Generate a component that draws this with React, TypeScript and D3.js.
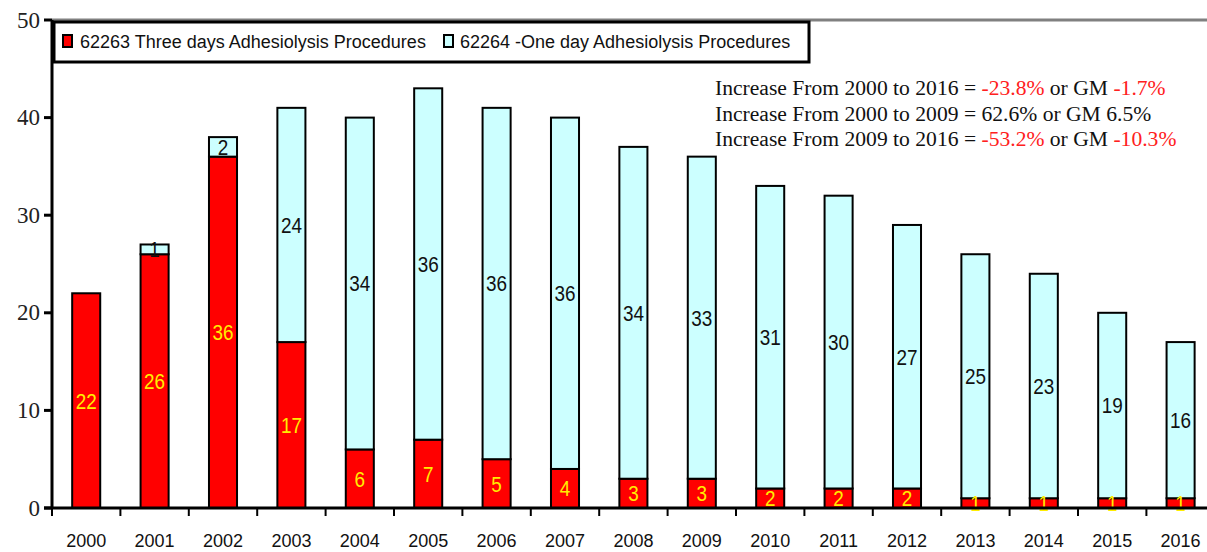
import React from "react";
import * as d3 from "d3";

// Annual procedure counts, by code
const years = ["2000","2001","2002","2003","2004","2005","2006","2007","2008","2009","2010","2011","2012","2013","2014","2015","2016"];
const threeDay = [22, 26, 36, 17, 6, 7, 5, 4, 3, 3, 2, 2, 2, 1, 1, 1, 1];
const oneDay = [0, 1, 2, 24, 34, 36, 36, 36, 34, 33, 31, 30, 27, 25, 23, 19, 16];
const yTicks = [0, 10, 20, 30, 40, 50];
const seriesNames = ["62263 Three days Adhesiolysis Procedures", "62264 -One day Adhesiolysis Procedures"];

// Summary lines: [plain, coloured] fragments
const notes: { text: string; red: boolean }[][] = [
  [
    { text: "Increase From 2000 to 2016 = ", red: false },
    { text: "-23.8%", red: true },
    { text: " or GM ", red: false },
    { text: "-1.7%", red: true },
  ],
  [
    { text: "Increase From 2000 to 2009 = 62.6% or GM 6.5%", red: false },
  ],
  [
    { text: "Increase From 2009 to 2016 = ", red: false },
    { text: "-53.2%", red: true },
    { text: " or GM ", red: false },
    { text: "-10.3%", red: true },
  ],
];

const W = 1207;
const H = 552;
const left = 52;
const top = 20;
const bottom = 508;
const step = 68.4;

const RED = "#ff0000";
const CYAN = "#ccffff";
const SANS = "'Liberation Sans', Arial, sans-serif";
const SERIF = "'Liberation Serif', 'Times New Roman', serif";

export default function App() {
  const x = d3
    .scaleBand<string>()
    .domain(years)
    .range([left, left + step * years.length])
    .paddingInner(0.59)
    .paddingOuter(0.295);
  const y = d3.scaleLinear().domain([0, 50]).range([bottom, top]);

  const rows = years.map((yr, i) => ({ year: yr, a: threeDay[i], b: oneDay[i] }));
  const stacked = d3.stack<any>().keys(["a", "b"])(rows as any);
  const fills = [RED, CYAN];
  const labelColors = ["#ffee00", "#111111"];

  const boundaries = d3.range(years.length + 1).map((i) => left + i * step);

  return (
    <svg
      width={W}
      height={H}
      style={{ position: "absolute", left: 0, top: 0, background: "#fff" }}
    >
      {/* plot frame top */}
      <line x1={left} x2={W} y1={top} y2={top} stroke="#808080" strokeWidth={3} />

      {/* bars */}
      {stacked.map((layer, li) => (
        <g key={li}>
          {layer.map((d: any, i: number) => {
            const v = d[1] - d[0];
            if (v <= 0) return null;
            return (
              <rect
                key={i}
                x={x(years[i])!}
                y={y(d[1])}
                width={x.bandwidth()}
                height={y(d[0]) - y(d[1])}
                fill={fills[li]}
                stroke="#000"
                strokeWidth={2}
              />
            );
          })}
        </g>
      ))}

      {/* segment labels, slightly condensed */}
      {stacked.map((layer, li) => (
        <g key={"l" + li}>
          {layer.map((d: any, i: number) => {
            const v = d[1] - d[0];
            if (v <= 0) return null;
            const cx = x(years[i])! + x.bandwidth() / 2;
            const cy = y((d[0] + d[1]) / 2);
            return (
              <text
                key={i}
                transform={`translate(${cx},${cy}) scale(0.86,1)`}
                dy="0.36em"
                textAnchor="middle"
                fontFamily={SANS}
                fontSize={22}
                fill={labelColors[li]}
              >
                {v}
              </text>
            );
          })}
        </g>
      ))}

      {/* y axis */}
      <line x1={left} x2={left} y1={top} y2={bottom} stroke="#000" strokeWidth={3} />
      {yTicks.map((t) => (
        <g key={t}>
          <line x1={left - 8} x2={left} y1={y(t)} y2={y(t)} stroke="#000" strokeWidth={3} />
          <text
            x={40}
            y={y(t)}
            dy="0.33em"
            textAnchor="end"
            fontFamily={SERIF}
            fontSize={23}
            fill="#222"
          >
            {t}
          </text>
        </g>
      ))}

      {/* x axis */}
      <line x1={left - 8} x2={W} y1={bottom} y2={bottom} stroke="#000" strokeWidth={3} />
      {boundaries.map((bx, i) => (
        <line key={i} x1={bx} x2={bx} y1={bottom} y2={bottom + 8} stroke="#000" strokeWidth={2} />
      ))}
      {years.map((yr) => (
        <text
          key={yr}
          x={x(yr)! + x.bandwidth() / 2}
          y={547}
          textAnchor="middle"
          fontFamily={SANS}
          fontSize={18}
          fill="#111"
        >
          {yr}
        </text>
      ))}

      {/* legend */}
      <rect x={54} y={22} width={755} height={40} fill="#fff" stroke="#000" strokeWidth={3} />
      <rect x={63} y={35} width={9} height={12} fill={RED} stroke="#000" strokeWidth={2} />
      <text x={80} y={48} fontFamily={SANS} fontSize={18} fill="#111">
        {seriesNames[0]}
      </text>
      <rect x={444} y={35} width={9} height={12} fill={CYAN} stroke="#000" strokeWidth={2} />
      <text x={460} y={48} fontFamily={SANS} fontSize={18} fill="#111">
        {seriesNames[1]}
      </text>

      {/* summary notes */}
      {notes.map((parts, li) => (
        <text
          key={li}
          x={715}
          y={95 + li * 25.5}
          fontFamily={SERIF}
          fontSize={21.6}
          fill="#111"
        >
          {parts.map((p, pi) => (
            <tspan key={pi} fill={p.red ? "#ff2020" : "#111"}>
              {p.text}
            </tspan>
          ))}
        </text>
      ))}
    </svg>
  );
}
